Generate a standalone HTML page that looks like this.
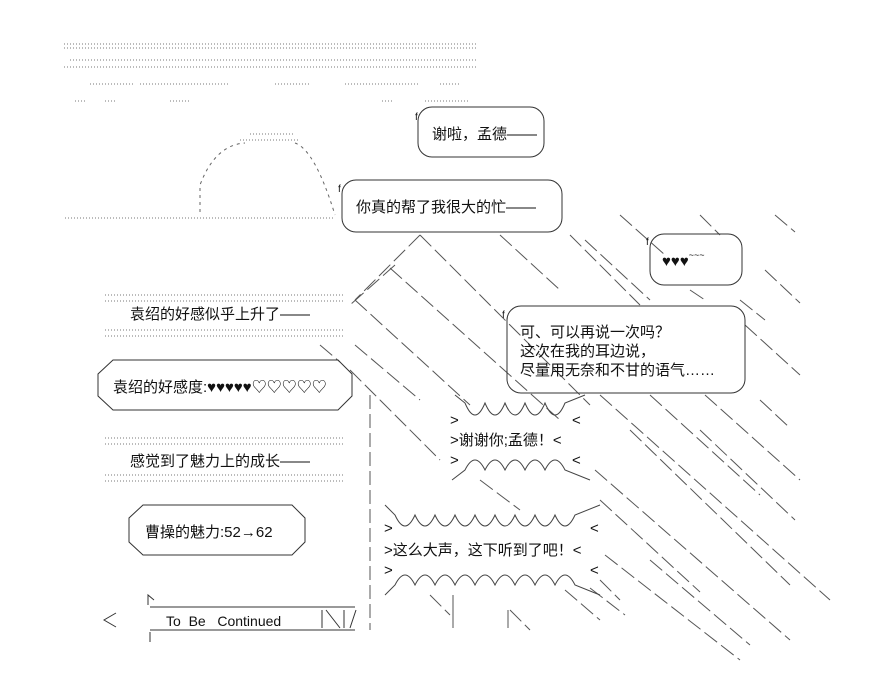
<!DOCTYPE html>
<html><head><meta charset="utf-8"><style>
html,body{margin:0;padding:0;background:#fff}
svg{display:block}
text{font-family:"Liberation Sans","Noto Sans CJK SC",sans-serif;fill:#111}
</style></head><body>
<svg width="895" height="676" viewBox="0 0 895 676" xmlns="http://www.w3.org/2000/svg">
<g stroke="#777" stroke-width="1" stroke-dasharray="1 2">
<line x1="64" y1="44" x2="478" y2="44"/><line x1="64" y1="48" x2="478" y2="48"/>
<line x1="70" y1="60" x2="478" y2="60"/><line x1="64" y1="67" x2="478" y2="67"/>
<line x1="90" y1="84" x2="135" y2="84"/><line x1="140" y1="84" x2="230" y2="84"/><line x1="275" y1="84" x2="310" y2="84"/>
<line x1="345" y1="84" x2="420" y2="84"/><line x1="440" y1="84" x2="460" y2="84"/>
<line x1="75" y1="101" x2="85" y2="101"/><line x1="105" y1="101" x2="115" y2="101"/><line x1="170" y1="101" x2="190" y2="101"/><line x1="382" y1="101" x2="392" y2="101"/><line x1="425" y1="101" x2="470" y2="101"/>
<line x1="65" y1="218" x2="335" y2="218"/>
<line x1="250" y1="134" x2="295" y2="134"/><line x1="240" y1="140" x2="300" y2="140"/>
<line x1="105" y1="295" x2="345" y2="295"/><line x1="105" y1="301" x2="345" y2="301"/>
<line x1="105" y1="330" x2="345" y2="330"/><line x1="105" y1="336" x2="345" y2="336"/>
<line x1="105" y1="438" x2="345" y2="438"/><line x1="105" y1="444" x2="345" y2="444"/>
<line x1="105" y1="475" x2="345" y2="475"/><line x1="105" y1="481" x2="345" y2="481"/>
</g>
<path d="M200,212 L200,185 Q215,145 245,143 M295,143 Q315,150 335,215" fill="none" stroke="#666" stroke-dasharray="3 4"/>
<g stroke="#555" stroke-width="1" stroke-dasharray="16 5" fill="none">
<line x1="420" y1="235" x2="355" y2="300"/><line x1="395" y1="265" x2="350" y2="305"/>
<line x1="420" y1="235" x2="590" y2="405"/><line x1="390" y1="268" x2="560" y2="420"/>
<line x1="355" y1="300" x2="470" y2="405"/><line x1="355" y1="345" x2="420" y2="400"/>
<line x1="500" y1="235" x2="560" y2="290"/><line x1="570" y1="235" x2="640" y2="305"/>
<line x1="620" y1="215" x2="665" y2="255"/><line x1="700" y1="215" x2="720" y2="235"/><line x1="775" y1="215" x2="795" y2="232"/>
<line x1="585" y1="240" x2="650" y2="300"/><line x1="690" y1="290" x2="705" y2="300"/>
<line x1="765" y1="270" x2="800" y2="303"/>
<line x1="745" y1="325" x2="800" y2="375"/><line x1="740" y1="300" x2="765" y2="320"/>
<line x1="600" y1="395" x2="830" y2="600"/><line x1="650" y1="395" x2="760" y2="495"/>
<line x1="705" y1="395" x2="800" y2="480"/><line x1="760" y1="400" x2="790" y2="428"/>
<line x1="630" y1="430" x2="790" y2="585"/><line x1="700" y1="430" x2="795" y2="520"/>
<line x1="595" y1="470" x2="790" y2="640"/><line x1="600" y1="500" x2="700" y2="592"/>
<line x1="605" y1="555" x2="740" y2="660"/><line x1="600" y1="580" x2="620" y2="600"/>
<line x1="650" y1="560" x2="750" y2="645"/><line x1="590" y1="588" x2="625" y2="615"/>
<line x1="350" y1="370" x2="380" y2="400"/><line x1="380" y1="400" x2="440" y2="460"/>
<line x1="480" y1="480" x2="520" y2="510"/><line x1="430" y1="595" x2="450" y2="615"/>
<line x1="565" y1="590" x2="600" y2="620"/><line x1="510" y1="610" x2="530" y2="630"/>
<line x1="320" y1="345" x2="340" y2="362"/>
</g>
<line x1="370" y1="395" x2="370" y2="630" stroke="#555" stroke-dasharray="14 5"/>
<line x1="453" y1="595" x2="453" y2="628" stroke="#555"/><line x1="508" y1="610" x2="508" y2="628" stroke="#555"/>
<g fill="none" stroke="#333" stroke-width="1">
<rect x="418" y="107" width="126" height="50" rx="14"/>
<rect x="342" y="180" width="220" height="52" rx="14"/>
<rect x="650" y="234" width="92" height="51" rx="14"/>
<rect x="507" y="306" width="238" height="87" rx="14"/>
<path d="M113,360 L338,360 L352,374 L352,396 L338,410 L113,410 L98,396 L98,374 Z"/>
<path d="M143,505 L292,505 L305,518 L305,542 L292,555 L143,555 L129,542 L129,518 Z"/>
<path d="M150,607 L355,607 M150,630 L355,630 M322,610 L322,628 M326,610 L340,628 M344,610 L344,628 M350,628 L356,610"/>
<path d="M116,613 L104,620 L116,627 M148,605 L148,595 L154,600 M150,632 L150,642"/>
</g>
<g font-size="10"><text x="415" y="120">f</text><text x="338" y="192">f</text><text x="646" y="245">f</text><text x="502" y="318">f</text></g>
<g fill="none" stroke="#444">
<path d="M455,395 L465,403 q10,24 20,0 q10,24 20,0 q10,24 20,0 q10,24 20,0 q10,24 20,0 L585,395"/>
<path d="M452,480 L465,470 q10,-20 20,0 q10,-20 20,0 q10,-20 20,0 q10,-20 20,0 q10,-20 20,0 L590,480"/>
<path d="M385,505 L395,515 q10,22 20,0 q10,22 20,0 q10,22 20,0 q10,22 20,0 q10,22 20,0 q10,22 20,0 q10,22 20,0 q10,22 20,0 q10,22 20,0 L600,505"/>
<path d="M385,595 L395,585 q10,-20 20,0 q10,-20 20,0 q10,-20 20,0 q10,-20 20,0 q10,-20 20,0 q10,-20 20,0 q10,-20 20,0 q10,-20 20,0 q10,-20 20,0 L600,595"/>
</g>
<g font-size="15">
<text x="432" y="139">谢啦，孟德——</text>
<text x="356" y="212">你真的帮了我很大的忙——</text>
<text x="662" y="266">♥♥♥<tspan font-size="9" dy="-8">~~~</tspan></text>
<text x="520" y="337">可、可以再说一次吗？</text>
<text x="520" y="356">这次在我的耳边说，</text>
<text x="520" y="375">尽量用无奈和不甘的语气……</text>
<text x="130" y="319">袁绍的好感似乎上升了——</text>
<text x="113" y="392">袁绍的好感度:♥♥♥♥♥♡♡♡♡♡</text>
<text x="130" y="466">感觉到了魅力上的成长——</text>
<text x="145" y="537">曹操的魅力:52→62</text>
<text x="166" y="626" font-size="14">To&#160;&#160;Be&#160;&#160;&#160;Continued</text>
<text x="450" y="425">&gt;</text><text x="572" y="425">&lt;</text>
<text x="450" y="445">&gt;谢谢你;孟德！&lt;</text>
<text x="450" y="465">&gt;</text><text x="572" y="465">&lt;</text>
<text x="384" y="533">&gt;</text><text x="590" y="533">&lt;</text>
<text x="384" y="555">&gt;这么大声，这下听到了吧！&lt;</text>
<text x="384" y="575">&gt;</text><text x="590" y="575">&lt;</text>
</g>
</svg>
</body></html>
